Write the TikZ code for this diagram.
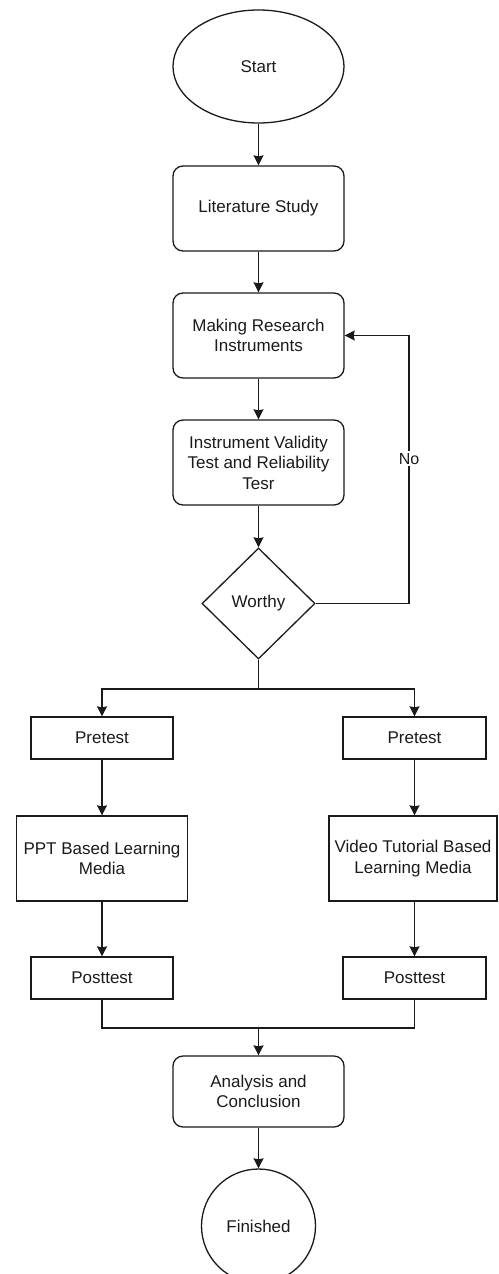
\documentclass[tikz,border=0pt]{standalone}
\usepackage{fontspec}
\setmainfont{Liberation Sans}
\usetikzlibrary{shapes.geometric,arrows.meta}
\definecolor{ink}{HTML}{1A1A1A}
\tikzset{
  base/.style={draw=ink, line width=1.3pt, text=ink, align=center, inner sep=0pt,
    font=\fontsize{17}{20.5}\selectfont},
  rbox/.style={base, rectangle, rounded corners=10pt, minimum width=171pt, minimum height=85pt},
  sbox/.style={base, rectangle, minimum width=142pt, minimum height=42pt},
  mbox/.style={base, rectangle, minimum width=171pt, minimum height=85pt},
  arr/.style={draw=ink, line width=1.3pt, -{Stealth[length=10pt,width=10pt,inset=1pt]}},
  ln/.style={draw=ink, line width=1.3pt},
}
\begin{document}
\begin{tikzpicture}[x=1pt,y=-1pt]
\useasboundingbox (0,0) rectangle (498,1274);
\node[base, ellipse, minimum width=171pt, minimum height=113pt] (start) at (258.5,66.5) {Start};
\node[rbox] (lit) at (258.5,208.5) {Literature Study};
\node[rbox] (make) at (258.5,335.5) {Making Research\\Instruments};
\node[rbox] (valid) at (258.5,462.5) {Instrument Validity\\Test and Reliability\\Tesr};
\node[base, diamond, minimum width=113pt, minimum height=111pt] (worthy) at (258.5,603.5) {Worthy};
\node[sbox] (pre1) at (102,738) {Pretest};
\node[sbox, minimum width=143pt] (pre2) at (414.5,738) {Pretest};
\node[mbox] (ppt) at (102,858.5) {PPT Based Learning\\Media};
\node[mbox, minimum width=168pt] (video) at (413,858.5) {Video Tutorial Based\\Learning Media};
\node[sbox] (post1) at (102,978) {Posttest};
\node[sbox, minimum width=143pt] (post2) at (414.5,978) {Posttest};
\node[rbox, minimum height=71pt] (anal) at (258.5,1091.5) {Analysis and\\Conclusion};
\node[base, circle, minimum size=114pt] (fin) at (258.5,1226) {Finished};

\coordinate (nocorner) at (409,603.5);
\coordinate (split) at (258.5,689);
\coordinate (merge) at (258.5,1028);

\draw[arr] (start) -- (lit);
\draw[arr] (lit) -- (make);
\draw[arr] (make) -- (valid);
\draw[arr] (valid) -- (worthy);
\draw[arr] (worthy.east) -- (nocorner) |- node[pos=0.27, fill=white, text=ink, inner sep=2pt, font=\fontsize{16}{19}\selectfont] {No} (make.east);
\draw[ln] (worthy.south) -- (split);
\draw[arr] (split) -| (pre1.north);
\draw[arr] (split) -| (pre2.north);
\draw[arr] (pre1) -- (ppt);
\draw[arr] (ppt.south -| pre1.south) -- (post1);
\draw[arr] (pre2) -- (pre2 |- video.north);
\draw[arr] (pre2 |- video.south) -- (post2);
\draw[ln] (post1.south) |- (merge);
\draw[ln] (post2.south) |- (merge);
\draw[arr] (merge) -- (anal);
\draw[arr] (anal) -- (fin);
\end{tikzpicture}
\end{document}
